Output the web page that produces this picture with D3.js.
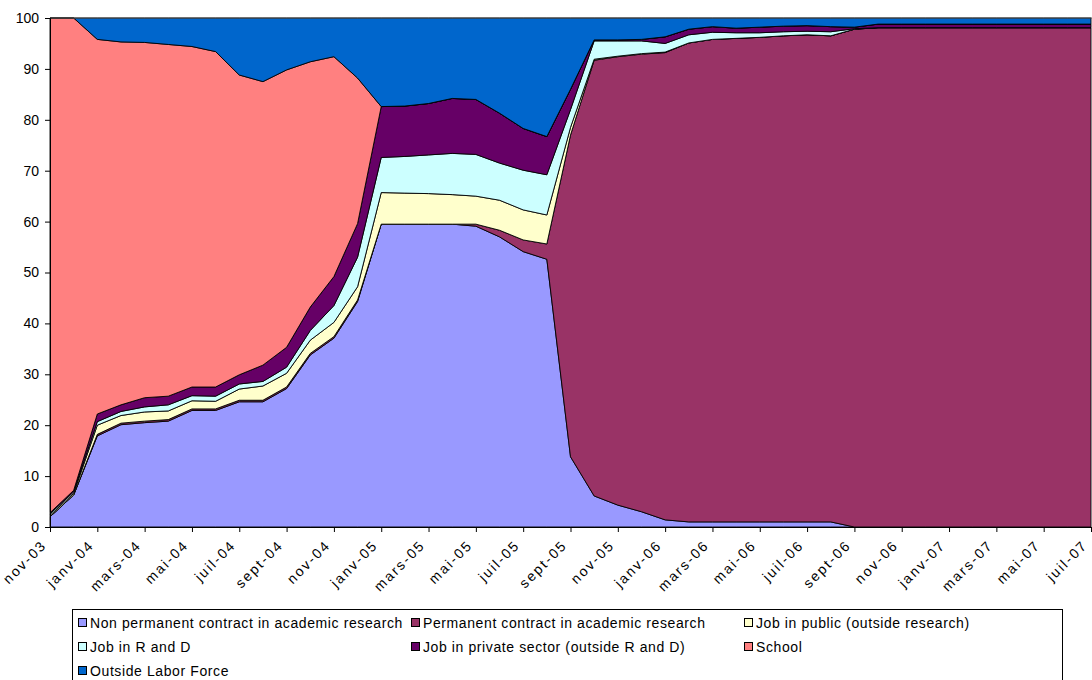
<!DOCTYPE html>
<html>
<head>
<meta charset="utf-8">
<script src="https://cdn.jsdelivr.net/npm/d3@7"></script>
<style>
  html, body { margin: 0; padding: 0; background: #fff; }
  svg { display: block; font-family: "Liberation Sans", Arial, sans-serif; }
</style>
</head>
<body>
<svg id="chart" width="1092" height="680"></svg>
<script>
// Monthly categories, nov-03 to juil-07
const months = ["nov-03","déc-03","janv-04","févr-04","mars-04","avr-04","mai-04","juin-04","juil-04","août-04","sept-04","oct-04",
  "nov-04","déc-04","janv-05","févr-05","mars-05","avr-05","mai-05","juin-05","juil-05","août-05","sept-05","oct-05",
  "nov-05","déc-05","janv-06","févr-06","mars-06","avr-06","mai-06","juin-06","juil-06","août-06","sept-06","oct-06",
  "nov-06","déc-06","janv-07","févr-07","mars-07","avr-07","mai-07","juin-07","juil-07"];

const seriesNames = [
  "Non permanent contract in academic research",
  "Permanent contract in academic research",
  "Job in public (outside research)",
  "Job in R and D",
  "Job in private sector (outside R and D)",
  "School",
  "Outside Labor Force"
];

// Share of people in each situation (%), one value per month
const nonPermanent = [2.0, 6.3, 17.9, 20.1, 20.5, 20.8, 22.9, 22.9, 24.6, 24.6, 27.2, 33.8, 37.1, 44.3, 59.5, 59.5, 59.5, 59.5, 59.1, 57.0, 54.1, 52.6, 13.8, 6.1, 4.3, 3.0, 1.4, 1.0, 1.0, 1.0, 1.0, 1.0, 1.0, 1.0, 0, 0, 0, 0, 0, 0, 0, 0, 0, 0, 0];
const permanent = [0, 0, 0.3, 0.3, 0.3, 0.3, 0.3, 0.3, 0.3, 0.3, 0.3, 0.3, 0.3, 0.3, 0, 0, 0, 0, 0.4, 1.3, 2.3, 3.0, 63.2, 85.6, 88.1, 89.9, 91.8, 94.1, 94.8, 95.0, 95.2, 95.5, 95.7, 95.5, 97.8, 98.1, 98.1, 98.1, 98.1, 98.1, 98.1, 98.1, 98.1, 98.1, 98.1];
const jobPublic = [0.3, 0.3, 1.8, 1.5, 1.8, 1.7, 1.6, 1.5, 2.2, 2.8, 2.7, 2.6, 2.8, 2.6, 6.2, 6.1, 6.0, 5.8, 5.5, 5.9, 5.9, 5.7, 1.5, 0.2, 0.1, 0.1, 0.1, 0, 0, 0, 0, 0, 0, 0, 0, 0, 0, 0, 0, 0, 0, 0, 0, 0, 0];
const jobRD = [0.3, 0.3, 0.7, 0.8, 1.0, 1.2, 1.0, 1.0, 1.0, 0.9, 1.2, 1.9, 3.3, 5.8, 6.9, 7.2, 7.6, 8.1, 8.2, 7.3, 7.8, 7.9, 3.5, 3.6, 3.0, 2.5, 1.7, 1.6, 1.4, 1.1, 0.9, 0.8, 0.7, 0.8, 0.1, 0, 0, 0, 0, 0, 0, 0, 0, 0, 0];
const jobPrivate = [0.2, 0.3, 1.5, 1.3, 1.8, 1.7, 1.7, 1.8, 1.8, 3.2, 3.9, 4.6, 5.7, 6.6, 10.0, 9.9, 10.1, 10.8, 10.8, 9.8, 8.2, 7.5, 4.0, 0.2, 0.2, 0.3, 1.3, 1.1, 1.1, 0.9, 1.1, 1.1, 1.1, 1.0, 0.3, 0.7, 0.7, 0.7, 0.7, 0.7, 0.7, 0.7, 0.7, 0.7, 0.7];
const school = [97.2, 92.8, 73.6, 71.3, 69.8, 69.1, 66.9, 65.9, 58.9, 55.7, 54.5, 48.2, 43.2, 28.6, 0, 0, 0, 0, 0, 0, 0, 0, 0, 0, 0, 0, 0, 0, 0, 0, 0, 0, 0, 0, 0, 0, 0, 0, 0, 0, 0, 0, 0, 0, 0];
const outsideLabor = [0, 0, 4.2, 4.7, 4.8, 5.2, 5.6, 6.6, 11.2, 12.5, 10.2, 8.6, 7.6, 11.8, 17.4, 17.3, 16.8, 15.8, 16.0, 18.7, 21.7, 23.3, 14.0, 4.3, 4.3, 4.2, 3.7, 2.2, 1.7, 2.0, 1.8, 1.6, 1.5, 1.7, 1.8, 1.2, 1.2, 1.2, 1.2, 1.2, 1.2, 1.2, 1.2, 1.2, 1.2];

const yTicks = [0, 10, 20, 30, 40, 50, 60, 70, 80, 90, 100];

const colors = ["#9999FF", "#993366", "#FFFFCC", "#CCFFFF", "#660066", "#FF8080", "#0066CC"];
const seriesValues = [nonPermanent, permanent, jobPublic, jobRD, jobPrivate, school, outsideLabor];

// Rows for d3.stack
const rows = months.map((m, i) => {
  const r = { month: m };
  seriesNames.forEach((s, k) => { r[s] = seriesValues[k][i]; });
  return r;
});

const svg = d3.select("#chart");
const plot = { left: 50, right: 1091, top: 18, bottom: 527 };

const x = d3.scalePoint().domain(months).range([plot.left, plot.right]);
const y = d3.scaleLinear().domain([0, 100]).range([plot.bottom, plot.top]);

// 100% stacked areas
const stack = d3.stack().keys(seriesNames).offset(d3.stackOffsetExpand);
const layers = stack(rows);

const area = d3.area()
  .x(d => x(d.data.month))
  .y0(d => y(d[0] * 100))
  .y1(d => y(d[1] * 100));

svg.append("g").selectAll("path")
  .data(layers)
  .join("path")
  .attr("d", area)
  .attr("fill", (d, i) => colors[i])
  .attr("stroke", "#000")
  .attr("stroke-width", 0.9)
  .attr("stroke-linejoin", "round");

// Plot area frame (top edge)
svg.append("line")
  .attr("x1", plot.left).attr("x2", 1092)
  .attr("y1", plot.top).attr("y2", plot.top)
  .attr("stroke", "#555").attr("stroke-width", 1);

// Y axis
const yAxis = d3.axisLeft(y).tickValues(yTicks).tickSize(5).tickPadding(6);
const gy = svg.append("g")
  .attr("transform", `translate(${plot.left},0)`)
  .call(yAxis);
gy.select(".domain").attr("stroke", "#000");
gy.selectAll(".tick line").attr("stroke", "#000");
gy.selectAll(".tick text")
  .attr("font-size", 14)
  .attr("fill", "#000")
  .style("font-family", "'Liberation Sans', Arial, sans-serif");

// X axis, labelled every second month
const shown = months.filter((m, i) => i % 2 === 0);
const xAxis = d3.axisBottom(x).tickValues(shown).tickSize(5).tickPadding(0);
const gx = svg.append("g")
  .attr("transform", `translate(0,${plot.bottom})`)
  .call(xAxis);
gx.select(".domain").attr("stroke", "#000");
gx.selectAll(".tick line").attr("stroke", "#000");
gx.selectAll(".tick text")
  .attr("font-size", 14)
  .attr("fill", "#000")
  .style("font-family", "'Liberation Sans', Arial, sans-serif")
  .style("letter-spacing", "2px")
  .attr("text-anchor", "end")
  .attr("y", 0)
  .attr("dy", "0")
  .attr("transform", "translate(-3,19) rotate(-45)");

// Legend
const legend = svg.append("g");
legend.append("rect")
  .attr("x", 72.5).attr("y", 609.5)
  .attr("width", 990).attr("height", 90)
  .attr("fill", "#fff").attr("stroke", "#000").attr("stroke-width", 1);

const colX = [78, 411, 744];
const rowY = [623, 647, 671];
seriesNames.forEach((name, i) => {
  const cx = colX[i % 3];
  const cy = rowY[Math.floor(i / 3)];
  const g = legend.append("g").attr("transform", `translate(${cx},${cy})`);
  g.append("rect")
    .attr("x", 0.5).attr("y", -4.5)
    .attr("width", 8).attr("height", 8)
    .attr("fill", colors[i]).attr("stroke", "#000").attr("stroke-width", 1);
  g.append("text")
    .attr("x", 12).attr("y", 0)
    .attr("dy", "0.35em")
    .attr("font-size", 14)
    .style("letter-spacing", "0.6px")
    .attr("fill", "#000")
    .text(name);
});
</script>
</body>
</html>
